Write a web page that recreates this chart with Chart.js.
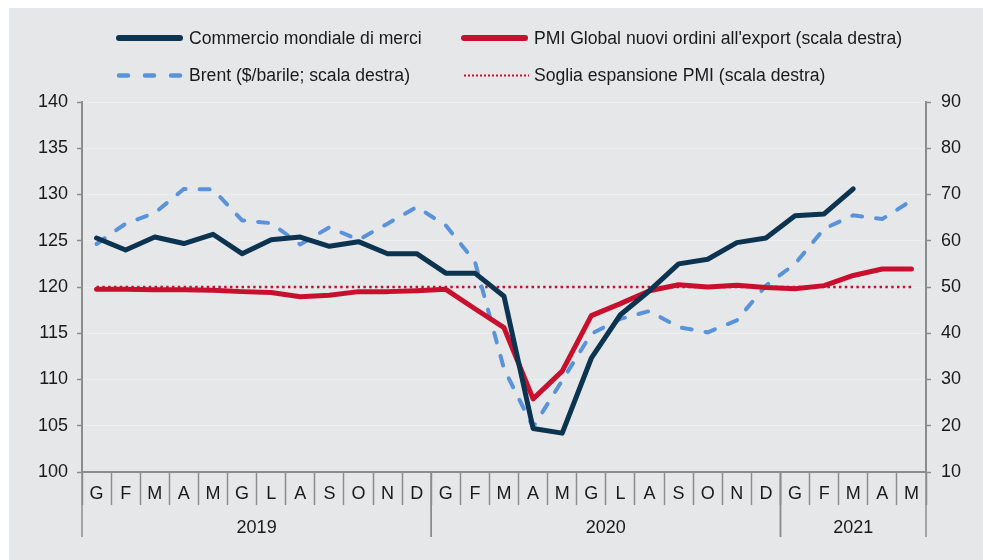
<!DOCTYPE html>
<html>
<head>
<meta charset="utf-8">
<script src="https://cdn.jsdelivr.net/npm/chart.js@4.4.1/dist/chart.umd.min.js"></script>
<style>
  html, body { margin: 0; padding: 0; background: #fff; }
  #wrap { position: absolute; left: 9px; top: 8px; width: 974px; height: 552px; background: #e6e7e9; }
</style>
</head>
<body>
<div id="wrap"><canvas id="chart" width="974" height="552"></canvas></div>
<script>
// months (G=gennaio ... D=dicembre), 2019 - May 2021
const months = ['G','F','M','A','M','G','L','A','S','O','N','D',
                'G','F','M','A','M','G','L','A','S','O','N','D',
                'G','F','M','A','M'];
const years = ['2019', '2020', '2021'];
const yearSpans = [12, 12, 5];

// left scale
const commercio = [125.3, 124.0, 125.4, 124.7, 125.7, 123.6, 125.1, 125.4, 124.4, 124.9, 123.6, 123.6,
                   121.5, 121.5, 119.0, 104.7, 104.2, 112.3, 117.0, 119.6, 122.5, 123.0, 124.8, 125.3,
                   127.7, 127.9, 130.6, null, null];
// right scale
const pmiExport = [49.5, 49.5, 49.4, 49.4, 49.3, 49.0, 48.8, 47.9, 48.2, 49.0, 49.0, 49.2,
                   49.5, 45.3, 41.2, 25.8, 31.8, 43.8, 46.4, 49.2, 50.5, 50.0, 50.4, 49.9,
                   49.6, 50.3, 52.5, 53.9, 53.9];
const brent = [59.3, 63.7, 66.0, 71.2, 71.1, 64.4, 63.8, 59.2, 62.9, 60.2, 63.7, 67.3,
               63.3, 55.5, 32.3, 19.7, 29.8, 39.9, 43.1, 44.8, 41.3, 40.2, 42.8, 50.3,
               55.0, 62.6, 65.5, 64.7, 68.7];
const soglia = months.map(() => 50);

const NAVY = '#0c3450';
const RED = '#c8102e';
const BLUE = '#5b93da';
const AXIS = '#8c8c8c';
const TEXT = '#1a1a1a';
const FONT = 'Liberation Sans, Arial, sans-serif';

// 2x2 legend drawn in the top band
const legendItems = [
  { text: 'Commercio mondiale di merci', color: NAVY, width: 6, dash: [], cap: 'round', col: 0, row: 0 },
  { text: "PMI Global nuovi ordini all'export (scala destra)", color: RED, width: 6, dash: [], cap: 'round', col: 1, row: 0 },
  { text: 'Brent ($/barile; scala destra)', color: BLUE, width: 4.5, dash: [9, 17], cap: 'round', col: 0, row: 1 },
  { text: 'Soglia espansione PMI (scala destra)', color: RED, width: 2, dash: [2, 2], cap: 'butt', col: 1, row: 1 }
];

const gridLegend = {
  id: 'gridLegend',
  afterDraw(chart) {
    const ctx = chart.ctx;
    const colX = [110, 455];
    const rowY = [30, 67.5];
    ctx.save();
    ctx.font = '17.6px ' + FONT;
    ctx.textBaseline = 'middle';
    ctx.fillStyle = TEXT;
    legendItems.forEach(it => {
      const x = colX[it.col], y = rowY[it.row];
      ctx.beginPath();
      ctx.strokeStyle = it.color;
      ctx.lineWidth = it.width;
      ctx.lineCap = it.cap;
      ctx.setLineDash(it.dash);
      ctx.moveTo(x, y);
      ctx.lineTo(x + (it.cap === 'round' ? 61 : 65), y);
      ctx.stroke();
      ctx.setLineDash([]);
      ctx.fillText(it.text, x + 70, y + 1);
    });
    ctx.restore();
  }
};

// year separators and labels under the month labels
const yearAxis = {
  id: 'yearAxis',
  afterDraw(chart) {
    const ctx = chart.ctx;
    const xs = chart.scales.x;
    const bottom = chart.chartArea.bottom;
    const half = (xs.getPixelForValue(1) - xs.getPixelForValue(0)) / 2;
    ctx.save();
    ctx.strokeStyle = AXIS;
    ctx.lineWidth = 1.5;
    ctx.font = '18px ' + FONT;
    ctx.fillStyle = TEXT;
    ctx.textAlign = 'center';
    ctx.textBaseline = 'middle';
    let start = 0;
    yearSpans.forEach((span, i) => {
      const x0 = xs.getPixelForValue(start) - half;
      const x1 = xs.getPixelForValue(start + span - 1) + half;
      [x0, x1].forEach(x => {
        ctx.beginPath();
        ctx.moveTo(x, bottom);
        ctx.lineTo(x, bottom + 65);
        ctx.stroke();
      });
      ctx.fillText(years[i], (x0 + x1) / 2, bottom + 56);
      start += span;
    });
    ctx.restore();
  }
};

new Chart(document.getElementById('chart'), {
  type: 'line',
  data: {
    labels: months,
    datasets: [
      { label: 'Commercio mondiale di merci', data: commercio, yAxisID: 'y',
        borderColor: NAVY, borderWidth: 5, pointRadius: 0, borderJoinStyle: 'round', borderCapStyle: 'round' },
      { label: "PMI Global nuovi ordini all'export (scala destra)", data: pmiExport, yAxisID: 'y1',
        borderColor: RED, borderWidth: 5, pointRadius: 0, borderJoinStyle: 'round', borderCapStyle: 'round' },
      { label: 'Brent ($/barile; scala destra)', data: brent, yAxisID: 'y1',
        borderColor: BLUE, borderWidth: 4, borderDash: [10, 14], borderCapStyle: 'round', pointRadius: 0 },
      { label: 'Soglia espansione PMI (scala destra)', data: soglia, yAxisID: 'y1',
        borderColor: RED, borderWidth: 2.5, borderDash: [2.5, 3.3], pointRadius: 0 }
    ]
  },
  options: {
    responsive: false,
    animation: false,
    layout: { padding: { top: 94, left: 0, right: 0, bottom: 0 } },
    plugins: { legend: { display: false }, tooltip: { enabled: false } },
    scales: {
      x: {
        offset: true,
        grid: { offset: true, drawOnChartArea: false, tickLength: 33, tickColor: AXIS, tickWidth: 1.5 },
        border: { color: AXIS, width: 2 },
        ticks: { color: TEXT, font: { family: FONT, size: 18 }, padding: -22, maxRotation: 0, autoSkip: false },
        afterFit(s) { s.height = 88; }
      },
      y: {
        position: 'left', min: 100, max: 140,
        ticks: { stepSize: 5, padding: 9, color: TEXT, font: { family: FONT, size: 18 } },
        grid: { color: '#eeeeef', lineWidth: 1, tickLength: 5, tickColor: AXIS, tickWidth: 1.5 },
        border: { color: AXIS, width: 2 },
        afterFit(s) { s.width = 73; }
      },
      y1: {
        position: 'right', min: 10, max: 90,
        ticks: { stepSize: 10, padding: 10, color: TEXT, font: { family: FONT, size: 18 } },
        grid: { drawOnChartArea: false, tickLength: 5, tickColor: AXIS, tickWidth: 1.5 },
        border: { color: AXIS, width: 2 },
        afterFit(s) { s.width = 57; }
      }
    }
  },
  plugins: [gridLegend, yearAxis]
});
</script>
</body>
</html>
